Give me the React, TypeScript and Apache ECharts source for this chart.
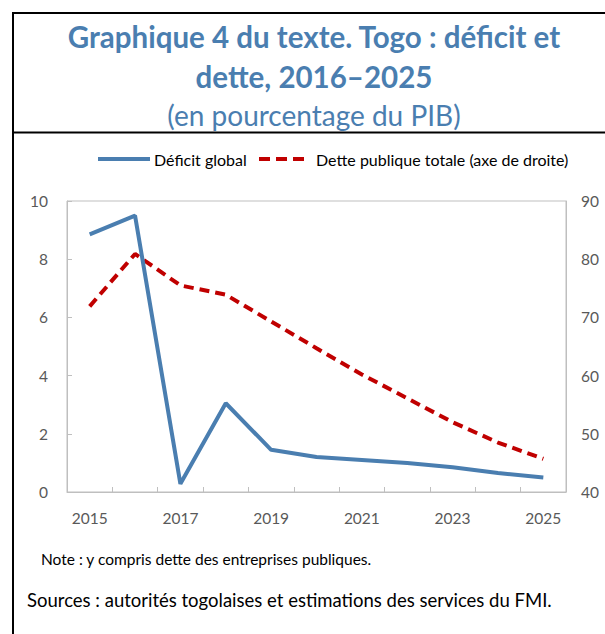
import React, { useEffect, useRef } from "react";
import * as echarts from "echarts";

const years = ["2015", "2016", "2017", "2018", "2019", "2020", "2021", "2022", "2023", "2024", "2025"];
const deficit = [8.85, 9.5, 0.28, 3.05, 1.45, 1.2, 1.1, 1.0, 0.85, 0.65, 0.5];
const debt = [71.9, 80.9, 75.5, 73.9, 69.3, 64.7, 60.2, 56.1, 52.0, 48.5, 45.7];
const deficitName = "Déficit global";
const debtName = "Dette publique totale (axe de droite)";
const titleLine1 = "Graphique 4 du texte. Togo : déficit et";
const titleLine2 = "dette, 2016–2025";
const subtitle = "(en pourcentage du PIB)";
const noteText = "Note : y compris dette des entreprises publiques.";
const sourceText = "Sources : autorités togolaises et estimations des services du FMI.";

const BLUE = "#4a7eb0";
const RED = "#c00000";
const GRAY = "#595959";
const FONT = "Lato, 'Noto Sans', sans-serif";

export default function App() {
  const ref = useRef<HTMLDivElement>(null);
  useEffect(() => {
    if (!ref.current) return;
    const chart = echarts.init(ref.current, undefined, { renderer: "svg" });
    const txt = (text: string, x: number, y: number, size: number, opts: any = {}) => ({
      type: "text",
      style: {
        text,
        x,
        y,
        font: `${opts.weight || "normal"} ${size}px ${FONT}`,
        fill: opts.fill || "#000",
        textAlign: opts.align || "left",
        textVerticalAlign: "middle",
        align: opts.align || "left",
        verticalAlign: "middle",
      },
    });
    const line = (x1: number, y1: number, x2: number, y2: number, stroke: string, w: number, dash?: number[]) => ({
      type: "line",
      shape: { x1, y1, x2, y2 },
      style: { stroke, lineWidth: w, lineDash: dash },
    });
    chart.setOption({
      animation: false,
      textStyle: { fontFamily: FONT },
      grid: {
        show: true,
        left: 67,
        right: 39,
        top: 201,
        bottom: 142,
        borderColor: "#bfbfbf",
        borderWidth: 1,
        backgroundColor: "transparent",
      },
      xAxis: {
        type: "category",
        data: years,
        boundaryGap: true,
        axisLine: { lineStyle: { color: "#bfbfbf", width: 1 } },
        axisTick: { show: true, inside: true, length: 5, interval: 0, lineStyle: { color: "#bfbfbf" } },
        axisLabel: { interval: 1, color: GRAY, fontSize: 15.5, margin: 18, fontFamily: FONT },
        splitLine: { show: false },
      },
      yAxis: [
        {
          type: "value",
          min: 0,
          max: 10,
          interval: 2,
          axisLine: { show: true, lineStyle: { color: "#bfbfbf" } },
          axisTick: { show: true, inside: true, length: 5, lineStyle: { color: "#bfbfbf" } },
          axisLabel: { color: GRAY, fontSize: 15.5, margin: 19, fontFamily: FONT },
          splitLine: { show: false },
        },
        {
          type: "value",
          min: 40,
          max: 90,
          interval: 10,
          position: "right",
          axisLine: { show: true, lineStyle: { color: "#bfbfbf" } },
          axisTick: { show: false },
          axisLabel: { color: GRAY, fontSize: 15.5, margin: 15, fontFamily: FONT },
          splitLine: { show: false },
        },
      ],
      series: [
        {
          name: debtName,
          type: "line",
          yAxisIndex: 1,
          data: debt,
          symbol: "none",
          lineStyle: { color: RED, width: 4, type: [10, 6] },
          itemStyle: { color: RED },
          z: 2,
        },
        {
          name: deficitName,
          type: "line",
          yAxisIndex: 0,
          data: deficit,
          symbol: "none",
          lineStyle: { color: BLUE, width: 4 },
          itemStyle: { color: BLUE },
          z: 3,
        },
      ],
      graphic: [
        line(12, 13, 605, 13, "#000", 2),
        line(13, 12, 13, 634, "#000", 2),
        line(12, 132.5, 605, 132.5, "#000", 2),
        txt(titleLine1, 314, 36, 29.5, { weight: "bold", fill: BLUE, align: "center" }),
        txt(titleLine2, 314, 76, 29.5, { weight: "bold", fill: BLUE, align: "center" }),
        txt(subtitle, 314, 115, 28, { fill: BLUE, align: "center" }),
        line(98, 159, 150, 159, BLUE, 4),
        txt(deficitName, 154, 159, 16),
        line(259, 159, 306, 159, RED, 4, [11, 6]),
        txt(debtName, 316, 159, 16),
        txt(noteText, 41, 559, 15.5),
        txt(sourceText, 27, 600, 18.5),
      ],
    });
    return () => chart.dispose();
  }, []);
  return (
    <div
      ref={ref}
      style={{ position: "fixed", left: 0, top: 0, width: 605, height: 634, background: "#fff" }}
    />
  );
}
